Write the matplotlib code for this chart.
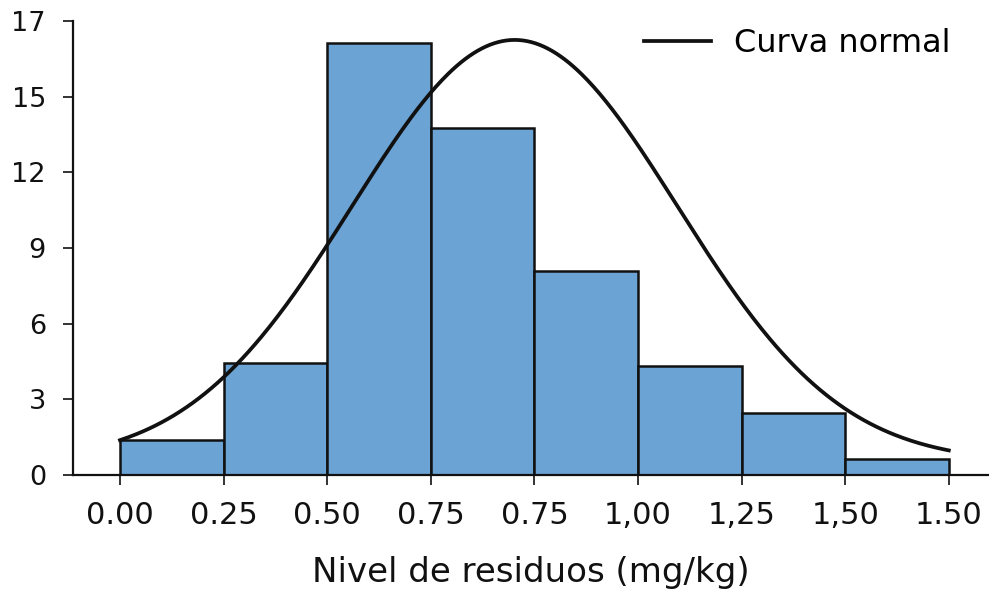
import numpy as np
import matplotlib
matplotlib.use("Agg")
import matplotlib.pyplot as plt

# ---- data ----
tick_labels = ['0.00', '0.25', '0.50', '0.75', '0.75', '1,00', '1,25', '1,50', '1.50']
counts = [1.39, 4.43, 17.14, 13.75, 8.10, 4.32, 2.47, 0.62]
ytick_values = [0, 3, 6, 9, 12, 15, 18]
ytick_labels = ['0', '3', '6', '9', '12', '15', '17']

# normal curve parameters (in bin-index units)
curve_mu = 3.81
curve_sigma = 1.57
curve_amp = 16.75
curve_offset = 0.5

plt.rcParams['font.family'] = ['DejaVu Sans']

fig = plt.figure(figsize=(9.89, 5.91), dpi=100)
W, H = 989, 591
ax = fig.add_axes([73 / W, (H - 475) / H, (W - 73) / W, (475 - 21) / H])

edges = np.arange(len(counts) + 1)
ax.bar(edges[:-1], counts, width=1.0, align='edge', color='#6aa3d4',
       edgecolor='#111111', linewidth=1.8, zorder=2)

xs = np.linspace(edges[0], edges[-1], 400)
ys = curve_offset + curve_amp * np.exp(-(xs - curve_mu) ** 2 / (2 * curve_sigma ** 2))
line, = ax.plot(xs, ys, color='#111111', linewidth=2.7, zorder=3,
                label='Curva normal')

ax.set_xlim((73 - 120) / 103.6, (989 - 120) / 103.6)
ax.set_ylim(0, 18)

ax.set_xticks(edges)
ax.set_xticklabels(tick_labels, fontsize=22)
ax.set_yticks(ytick_values)
ax.set_yticklabels(ytick_labels, fontsize=19.5)

ax.tick_params(axis='both', direction='out', length=7.5, width=1.2,
               color='#111111', labelcolor='#111111')
ax.tick_params(axis='y', pad=12)
ax.tick_params(axis='x', pad=11)

for s in ['top', 'right']:
    ax.spines[s].set_visible(False)
for s in ['left', 'bottom']:
    ax.spines[s].set_linewidth(1.6)
    ax.spines[s].set_color('#111111')

ax.set_xlabel('Nivel de residuos (mg/kg)', fontsize=24.5, labelpad=19,
              color='#111111')

leg = ax.legend(handles=[line], loc='center right',
                bbox_to_anchor=(950 / W, 1 - 44 / H),
                bbox_transform=fig.transFigure, frameon=False,
                fontsize=23, handlelength=2.1, handletextpad=0.7,
                borderpad=0, borderaxespad=0)

fig.savefig('out.png', dpi=100)
